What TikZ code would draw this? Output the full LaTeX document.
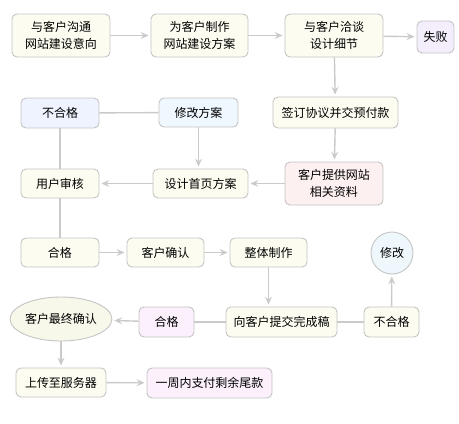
\documentclass[tikz,border=0pt]{standalone}
\usepackage{fontspec}
\newfontfamily\cjk{Noto Sans CJK SC}
\usetikzlibrary{arrows.meta,shapes.geometric}
\definecolor{bd}{HTML}{C4C4C4}
\definecolor{ln}{HTML}{CACACA}
\definecolor{fy}{HTML}{FCFCF0}
\definecolor{fb}{HTML}{EEF3FF}
\definecolor{fc}{HTML}{F0F8FF}
\definecolor{fl}{HTML}{F4EEFC}
\definecolor{fr}{HTML}{FDF0F0}
\definecolor{fp}{HTML}{FBF0FB}
\definecolor{fe}{HTML}{F8F8EA}
\definecolor{fs}{HTML}{EEF8FC}
\tikzset{
  box/.style={draw=bd, line width=0.9pt, rounded corners=5pt, fill=fy, inner sep=0pt, align=center,
    font=\cjk\fontsize{12}{17}\selectfont, text=black},
  conn/.style={draw=ln, line width=1.4pt},
  arr/.style={conn, -{Stealth[length=8pt,width=7pt,inset=3pt]}, shorten >=2pt},
}
\begin{document}
\begin{tikzpicture}[x=1pt,y=-1pt]
\useasboundingbox (0,0) rectangle (459,424);
% row 1
\node[box, minimum width=98pt, minimum height=43pt] (A) at (61,35.5) {与客户沟通\\网站建设意向};
\node[box, minimum width=97pt, minimum height=43pt] (B) at (199.5,35.5) {为客户制作\\网站建设方案};
\node[box, minimum width=98pt, minimum height=43pt] (C) at (334,35.5) {与客户洽谈\\设计细节};
\node[box, fill=fl, minimum width=37pt, minimum height=32pt] (fail) at (435.5,37) {失败};
% row 2
\node[box, fill=fb, minimum width=78pt, minimum height=30pt] (ngA) at (60,113) {不合格};
\node[box, fill=fc, minimum width=79pt, minimum height=29pt] (xgfa) at (198.5,112.5) {修改方案};
\node[box, minimum width=125pt, minimum height=31pt] (qd) at (335.5,112.5) {签订协议并交预付款};
% row 3
\node[box, minimum width=78pt, minimum height=29pt] (yhsh) at (60,183.5) {用户审核};
\node[box, minimum width=95pt, minimum height=29pt] (sj) at (200.5,183.5) {设计首页方案};
\node[box, fill=fr, minimum width=98pt, minimum height=43pt] (tg) at (334,183.5) {客户提供网站\\相关资料};
% row 4
\node[box, minimum width=78pt, minimum height=29pt] (hgA) at (60,252.5) {合格};
\node[box, minimum width=77pt, minimum height=29pt] (qr) at (165.5,252.5) {客户确认};
\node[box, minimum width=77pt, minimum height=29pt] (zt) at (268.5,252.5) {整体制作};
\node[box, circle, fill=fs, minimum size=42pt] (xg) at (392,253) {修改};
% row 5
\node[box, ellipse, fill=fe, minimum width=98pt, minimum height=44pt] (zzqr) at (61,319) {客户最终确认};
\node[box, fill=fp, minimum width=55pt, minimum height=30pt] (hgB) at (166.5,322) {合格};
\node[box, minimum width=111pt, minimum height=30pt] (wcg) at (281.5,322) {向客户提交完成稿};
\node[box, minimum width=55pt, minimum height=30pt] (ngB) at (391.5,322) {不合格};
% row 6
\node[box, minimum width=90pt, minimum height=29pt] (sc) at (61,382.5) {上传至服务器};
\node[box, fill=fp, minimum width=125pt, minimum height=30pt] (zf) at (209.5,383) {一周内支付剩余尾款};
% connectors
\draw[arr] (A) -- (B);
\draw[arr] (B) -- (C);
\draw[arr] (C) -- (fail);
\draw[arr] (C) -- (qd);
\draw[arr] (qd) -- (tg);
\draw[arr] (tg) -- (sj);
\draw[arr] (sj) -- (yhsh);
\draw[arr] (xgfa.south) -- (xgfa.south |- sj.north);
\draw[conn] (ngA) -- (xgfa);
\draw[conn] (ngA) -- (yhsh);
\draw[conn] (yhsh) -- (hgA);
\draw[arr] (hgA) -- (qr);
\draw[arr] (qr) -- (zt);
\draw[arr] (zt.south) -- (zt.south |- wcg.north);
\draw[conn] (wcg) -- (ngB);
\draw[arr] (ngB) -- (xg);
\draw[conn] (wcg) -- (hgB);
\draw[arr] (hgB) -- (zzqr);
\draw[arr] (zzqr) -- (sc);
\draw[arr] (sc) -- (zf);
\end{tikzpicture}
\end{document}
